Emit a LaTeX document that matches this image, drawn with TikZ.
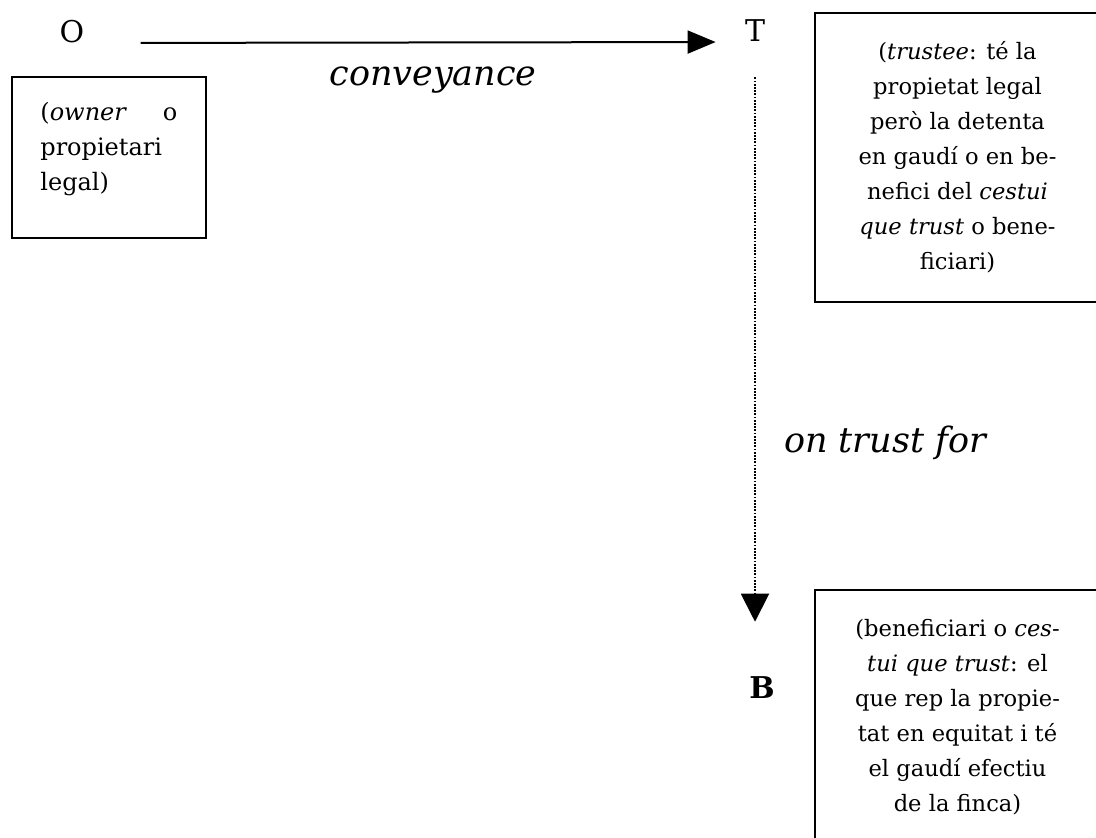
\documentclass[tikz,border=0pt]{standalone}
\usepackage{fontspec}
\setmainfont{DejaVu Serif}
\usetikzlibrary{arrows.meta}

\begin{document}
\begin{tikzpicture}[x = 0.5pt, y = -0.5pt]
\tikzstyle{letterStyle} = [font = \fontsize{15}{17}\selectfont, inner sep = 2pt, anchor = base]
\tikzstyle{boxStyle} = [draw, line width = 1pt, inner sep = 0pt, align = center, font = \fontsize{11.3}{17.5}\selectfont]
\tikzstyle{boxText} = [inner sep = 0pt, align = left, text width = 68.5pt, font = \fontsize{12}{17.5}\selectfont]
\tikzstyle{arrowLabel} = [font = \fontsize{17.5}{20}\selectfont\itshape]
\tikzstyle{conveyStyle} = [line width = 1pt, -{Triangle[length = 14pt, width = 11.5pt]}]
\tikzstyle{trustStyle} = [line width = 1pt, dash pattern = on 0.9pt off 0.7pt, -{Triangle[length = 14pt, width = 14pt]}]
\useasboundingbox (0,0) rectangle (1096,838);
% parties
\node[letterStyle] (O) at (72,43) {O};
\node[letterStyle] (T) at (755,42) {T};
\node[letterStyle, font = \fontsize{15}{17}\selectfont\bfseries] (B) at (762,698) {B};
% boxes
\node[boxStyle, minimum width = 97pt, minimum height = 80.5pt] (Obox) at (109,157.5) {};
\node[boxText, anchor = north west] (Otext) at (40,102) {(\textit{owner}\hfill o\\ propietari\\ legal)};
\node[boxStyle, minimum width = 142.5pt, minimum height = 144.5pt] (Tbox) at (957.5,157.5) {(\textit{trustee}: té la\\ propietat legal\\ però la detenta\\ en gaudí o en be-\\ nefici del \textit{cestui}\\ \textit{que trust} o bene-\\ ficiari)};
\node[boxStyle, minimum width = 142.5pt, minimum height = 127.5pt] (Bbox) at (957.5,717.5) {(beneficiari o \textit{ces-}\\ \textit{tui que trust}: el\\ que rep la propie-\\ tat en equitat i té\\ el gaudí efectiu\\ de la finca)};
% arrows
\draw[conveyStyle, shorten <= 26pt, shorten >= 12.5pt] (O.base east) -- (T.base west);
\draw[trustStyle, shorten <= 15.5pt, shorten >= 25pt] (T.south) -- (T.south |- B.north);
\node[arrowLabel] (conv) at (433,80) {conveyance};
\node[arrowLabel] (trust) at (885,443) {on trust for};
\end{tikzpicture}
\end{document}
